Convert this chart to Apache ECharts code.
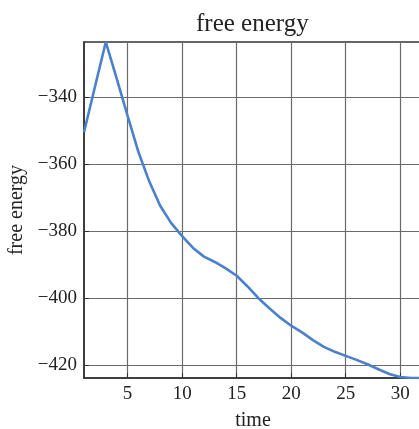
<!DOCTYPE html>
<html>
<head>
<meta charset="utf-8">
<script src="https://cdn.jsdelivr.net/npm/echarts@6/dist/echarts.min.js"></script>
<style>
  html, body { margin: 0; padding: 0; background: #fff; }
  #chart { width: 419px; height: 429px; }
</style>
</head>
<body>
<div id="chart"></div>
<script>
// Free energy over time
const time = [1, 2, 3, 4, 5, 6, 7, 8, 9, 10, 11, 12, 13, 14, 15, 16,
              17, 18, 19, 20, 21, 22, 23, 24, 25, 26, 27, 28, 29, 30, 31, 32];
const freeEnergy = [-350.5, -337.0, -323.6, -334.5, -345.6, -356.5, -365.3, -372.5,
                    -377.6, -381.5, -385.0, -387.6, -389.2, -391.1, -393.3, -396.5,
                    -400.0, -403.0, -405.8, -408.2, -410.2, -412.5, -414.5, -416.0,
                    -417.2, -418.4, -419.7, -421.2, -422.6, -423.5, -423.8, -423.8];
const xTicks = [5, 10, 15, 20, 25, 30];
const yTicks = [-420, -400, -380, -360, -340];

const serif = '"Liberation Serif", "DejaVu Serif", serif';
const axisColor = '#333';
const gridColor = '#6a6a6a';

const chart = echarts.init(document.getElementById('chart'), null, { renderer: 'canvas' });

chart.setOption({
  animation: false,
  backgroundColor: '#fff',
  title: {
    text: 'free energy',
    left: 191,
    top: 7,
    textStyle: { fontFamily: serif, fontWeight: 'normal', fontSize: 25, color: '#222' }
  },
  grid: {
    left: 84, right: -3, top: 42, bottom: 51,
    outerBoundsMode: 'none',
    show: true, borderColor: axisColor, borderWidth: 1.5
  },
  xAxis: {
    type: 'value',
    min: 1,
    max: 32,
    name: 'time',
    nameLocation: 'middle',
    nameGap: 33,
    nameTextStyle: { fontFamily: serif, fontSize: 20, color: '#222' },
    axisLine: { show: true, lineStyle: { color: axisColor, width: 1.5 } },
    axisTick: { show: true, inside: true, length: 5, customValues: xTicks, lineStyle: { color: axisColor } },
    axisLabel: { customValues: xTicks, fontFamily: serif, fontSize: 19, color: '#222', margin: 7 },
    splitLine: { show: true, lineStyle: { color: gridColor, width: 1.2 } }
  },
  yAxis: {
    type: 'value',
    min: -423.8,
    max: -323.6,
    name: 'free energy',
    nameLocation: 'middle',
    nameRotate: 90,
    nameGap: 51,
    nameTextStyle: { fontFamily: serif, fontSize: 20, color: '#222' },
    axisLine: { show: true, lineStyle: { color: axisColor, width: 1.5 } },
    axisTick: { show: true, inside: true, length: 5, customValues: yTicks, lineStyle: { color: axisColor } },
    axisLabel: {
      customValues: yTicks,
      fontFamily: serif, fontSize: 19, color: '#222', margin: 7,
      formatter: v => String(v).replace('-', '\u2212')
    },
    splitLine: { show: true, lineStyle: { color: gridColor, width: 1.2 } }
  },
  series: [{
    type: 'line',
    data: time.map((t, i) => [t, freeEnergy[i]]),
    showSymbol: false,
    clip: true,
    lineStyle: { color: '#4a80cc', width: 2.6 },
    itemStyle: { color: '#4a80cc' }
  }]
});
</script>
</body>
</html>
